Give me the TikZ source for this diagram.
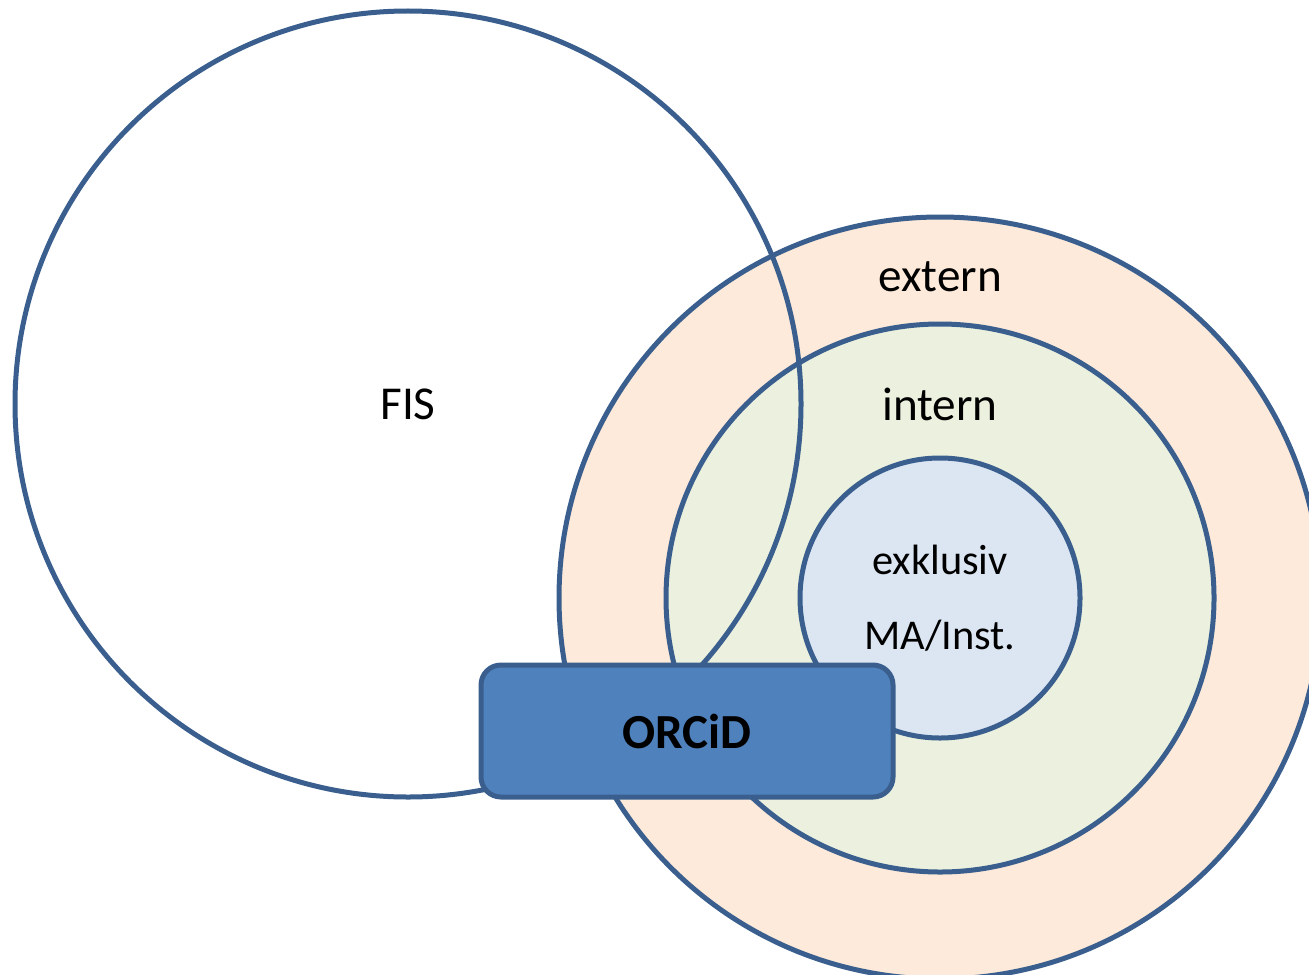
\documentclass[tikz,border=0pt]{standalone}
\usepackage{fontspec}
\setmainfont{Carlito}
\definecolor{rim}{HTML}{3A5F8E}
\definecolor{externfill}{HTML}{FDEADA}
\definecolor{internfill}{HTML}{EBF1DE}
\definecolor{exklfill}{HTML}{DCE6F2}
\definecolor{orcidfill}{HTML}{4F81BD}
\definecolor{orcidrim}{HTML}{3A5F8E}
\tikzset{
  ring/.style={circle,draw=rim,line width=2.5pt,inner sep=0pt},
  lbl/.style={font=\fontsize{23.6}{27}\selectfont},
  lblsmall/.style={font=\fontsize{21.2}{25}\selectfont},
}
\begin{document}
\begin{tikzpicture}[x=0.5pt,y=-0.5pt]
	\useasboundingbox (0,0) rectangle (1309,974);
	\clip (0,0) rectangle (1309,974);
	% nested rings
	\node[ring,fill=externfill,minimum size=381pt] (extern) at (940,598) {};
	\node[ring,fill=internfill,minimum size=274pt] (intern) at (940,598) {};
	\node[ring,fill=exklfill,minimum size=140pt] (exklusiv) at (940,598) {};
	% FIS circle on top
	\node[ring,minimum size=393pt,lbl] (fis) at (408,404) {FIS};
	% labels
	\node[lbl] (externlbl) at (940,277) {extern};
	\node[lbl] (internlbl) at (940,404) {intern};
	\node[lblsmall] (exkllbl) at (940,560) {exklusiv};
	\node[lblsmall] (malbl) at (940,636) {MA/Inst.};
	% ORCiD box
	\node[draw=orcidrim,fill=orcidfill,line width=2.5pt,rounded corners=10pt,
	      minimum width=206pt,minimum height=66pt,
	      font=\fontsize{24.5}{28}\selectfont\bfseries] (orcid) at (687,731) {ORCiD};
\end{tikzpicture}
\end{document}
